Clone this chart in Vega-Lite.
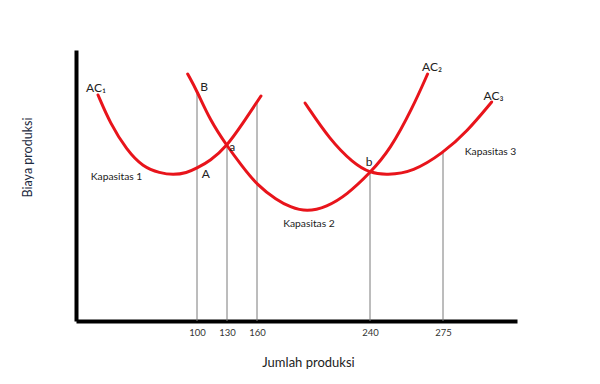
{
  "$schema": "https://vega.github.io/schema/vega-lite/v6.json",
  "width": 441,
  "height": 271,
  "autosize": "none",
  "padding": {"left": 76, "top": 50, "right": 83, "bottom": 63},
  "background": "white",
  "config": {
    "view": {"stroke": null},
    "font": "Lato",
    "axis": {"grid": false}
  },
  "datasets": {
    "curves": [
      {"curve": "AC1", "q": 18.2, "cost": 226},
      {"curve": "AC1", "q": 28.1, "cost": 198},
      {"curve": "AC1", "q": 41.9, "cost": 171},
      {"curve": "AC1", "q": 55.4, "cost": 154},
      {"curve": "AC1", "q": 69.4, "cost": 148},
      {"curve": "AC1", "q": 80.2, "cost": 146},
      {"curve": "AC1", "q": 91.5, "cost": 148},
      {"curve": "AC1", "q": 100, "cost": 153},
      {"curve": "AC1", "q": 113, "cost": 160},
      {"curve": "AC1", "q": 130, "cost": 175},
      {"curve": "AC1", "q": 146, "cost": 198},
      {"curve": "AC1", "q": 162.8, "cost": 225},
      {"curve": "AC2", "q": 92.3, "cost": 247},
      {"curve": "AC2", "q": 100, "cost": 230},
      {"curve": "AC2", "q": 113, "cost": 201},
      {"curve": "AC2", "q": 130, "cost": 175},
      {"curve": "AC2", "q": 145, "cost": 155},
      {"curve": "AC2", "q": 160, "cost": 136},
      {"curve": "AC2", "q": 174, "cost": 121},
      {"curve": "AC2", "q": 183.4, "cost": 114},
      {"curve": "AC2", "q": 195.2, "cost": 109},
      {"curve": "AC2", "q": 209.3, "cost": 114},
      {"curve": "AC2", "q": 223.5, "cost": 126},
      {"curve": "AC2", "q": 240, "cost": 148},
      {"curve": "AC2", "q": 249.6, "cost": 171},
      {"curve": "AC2", "q": 260.6, "cost": 214},
      {"curve": "AC2", "q": 267.6, "cost": 247},
      {"curve": "AC3", "q": 194, "cost": 218},
      {"curve": "AC3", "q": 211.7, "cost": 181},
      {"curve": "AC3", "q": 228, "cost": 158},
      {"curve": "AC3", "q": 240, "cost": 148},
      {"curve": "AC3", "q": 248, "cost": 146},
      {"curve": "AC3", "q": 260.6, "cost": 149},
      {"curve": "AC3", "q": 275, "cost": 168},
      {"curve": "AC3", "q": 289.4, "cost": 189},
      {"curve": "AC3", "q": 304.6, "cost": 219}
    ],
    "rules": [
      {"q": 100, "top": 228},
      {"q": 130, "top": 175},
      {"q": 160, "top": 218},
      {"q": 240, "top": 148},
      {"q": 275, "top": 168}
    ],
    "bigLabels": [
      {"q": 16.5, "cost": 233, "text": "AC₁"},
      {"q": 107, "cost": 234, "text": "B"},
      {"q": 135.3, "cost": 174, "text": "a"},
      {"q": 108.7, "cost": 147, "text": "A"},
      {"q": 269.7, "cost": 254, "text": "AC₂"},
      {"q": 305.7, "cost": 225, "text": "AC₃"},
      {"q": 239.3, "cost": 159, "text": "b"}
    ],
    "smallLabels": [
      {"q": 33.5, "cost": 144, "text": "Kapasitas 1"},
      {"q": 196.8, "cost": 97, "text": "Kapasitas 2"},
      {"q": 303.9, "cost": 169, "text": "Kapasitas 3"}
    ]
  },
  "layer": [
    {
      "data": {"name": "rules"},
      "mark": {"type": "rule", "color": "#7a7a7a", "strokeWidth": 1},
      "encoding": {
        "x": {
          "field": "q",
          "type": "quantitative",
          "scale": {"domain": [0, 100, 130, 160, 240, 275, 320], "range": [0, 121, 151, 181, 294, 367, 441], "nice": false, "zero": false},
          "axis": {
            "values": [100, 130, 160, 240, 275],
            "domainColor": "black",
            "domainWidth": 4,
            "ticks": false,
            "labelFontSize": 9.5,
            "labelColor": "#333",
            "labelPadding": 6,
            "labelFlush": false,
            "title": "Jumlah produksi",
            "titleFontSize": 13,
            "titleFontWeight": "normal",
            "titleColor": "#222",
            "titleX": 232,
            "titleY": 41,
            "titleBaseline": "middle"
          }
        },
        "y": {
          "field": "top",
          "type": "quantitative",
          "scale": {"domain": [0, 271], "nice": false},
          "axis": {
            "domainColor": "black",
            "domainWidth": 4,
            "ticks": false,
            "labels": false,
            "title": "Biaya produksi",
            "titleFontSize": 12.5,
            "titleFontWeight": "normal",
            "titleColor": "#1c2a40",
            "titleX": -49,
            "titleY": 107,
            "titleAlign": "center",
            "titleBaseline": "middle",
            "titleAngle": -90
          }
        },
        "y2": {"datum": 0}
      }
    },
    {
      "data": {"name": "curves"},
      "mark": {"type": "line", "color": "#e8141b", "strokeWidth": 3, "interpolate": "basis", "strokeCap": "round"},
      "encoding": {
        "x": {"field": "q", "type": "quantitative"},
        "y": {"field": "cost", "type": "quantitative"},
        "detail": {"field": "curve"}
      }
    },
    {
      "data": {"name": "bigLabels"},
      "mark": {"type": "text", "fontSize": 12, "color": "#222", "align": "center", "baseline": "middle"},
      "encoding": {
        "x": {"field": "q", "type": "quantitative"},
        "y": {"field": "cost", "type": "quantitative"},
        "text": {"field": "text"}
      }
    },
    {
      "data": {"name": "smallLabels"},
      "mark": {"type": "text", "fontSize": 10.3, "color": "#222", "align": "center", "baseline": "middle"},
      "encoding": {
        "x": {"field": "q", "type": "quantitative"},
        "y": {"field": "cost", "type": "quantitative"},
        "text": {"field": "text"}
      }
    }
  ]
}
